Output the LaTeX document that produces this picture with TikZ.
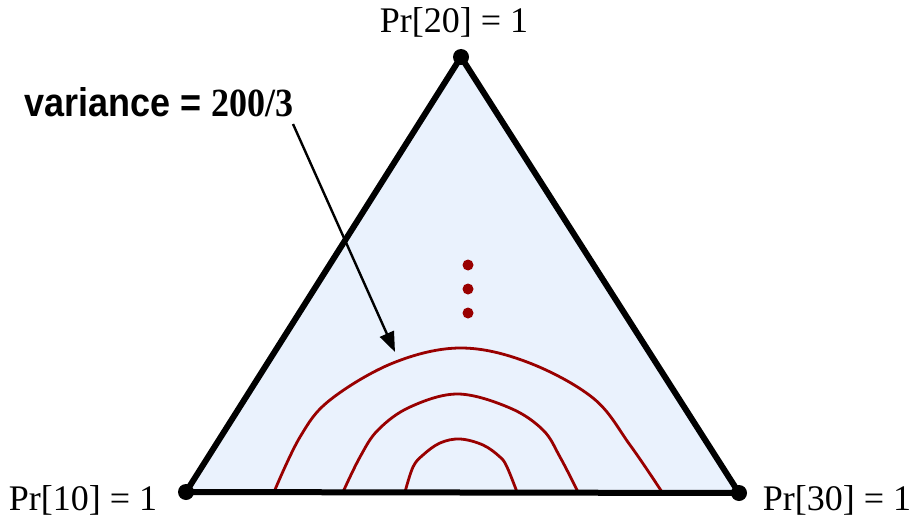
\documentclass[tikz,border=0pt]{standalone}
\usepackage{fontspec}
\setmainfont{Liberation Serif}
\newfontfamily\labsans{Liberation Sans}
\usetikzlibrary{arrows.meta}
\definecolor{fillblue}{HTML}{EAF2FD}
\definecolor{curvered}{HTML}{990000}
\begin{document}
\begin{tikzpicture}[x=1pt,y=-1pt,
  edge/.style={line width=6pt,line join=round},
  vdot/.style={circle,fill=black,inner sep=0pt,minimum size=16pt},
  rdot/.style={circle,fill=curvered,inner sep=0pt,minimum size=11pt},
  contour/.style={curvered,line width=2.8pt},
  vlabel/.style={font=\fontsize{36}{40}\selectfont,inner sep=0pt,anchor=base}]
\useasboundingbox (0,0) rectangle (913,519);
\coordinate (A) at (186,492);
\coordinate (B) at (461,57);
\coordinate (C) at (739,493);
\fill[fillblue] (A) -- (B) -- (C) -- cycle;
% contours
\draw[contour] plot[smooth,tension=0.6] coordinates {(274,492) (300,437) (330,400) (393,363) (460,348) (527,362) (593,398) (630,445) (662,492)};
\draw[contour] plot[smooth,tension=0.6] coordinates {(343,492) (360,457) (378,430) (410,407) (458,394) (510,408) (543,430) (560,457) (578,492)};
\draw[contour] plot[smooth,tension=0.6] coordinates {(405,492) (413,467) (423,455) (440,443) (460,439) (483,445) (500,457) (507,467) (517,492)};
\draw[edge] (A) -- (B) -- (C) -- cycle;
\node[vdot] (vA) at (A) {};
\node[vdot] (vB) at (B) {};
\node[vdot] (vC) at (C) {};
\node[rdot] (d1) at (468,265) {};
\node[rdot] (d2) at (468,289) {};
\node[rdot] (d3) at (468,313) {};
\node[vlabel] (lB) at (454,33) {Pr[20] = 1};
\node[vlabel] (lA) at (83,510) {Pr[10] = 1};
\node[vlabel] (lC) at (837,510) {Pr[30] = 1};
\node[inner sep=0pt,anchor=base west] (var) at (24,116) {\scalebox{0.9}[1]{\fontsize{40}{44}\selectfont\bfseries{\labsans variance = }200/3}};
\coordinate (tip) at (395,352);
\draw[line width=2.4pt,-{Triangle[length=20pt,width=15pt]}] (293,124) -- (tip);
\end{tikzpicture}
\end{document}
